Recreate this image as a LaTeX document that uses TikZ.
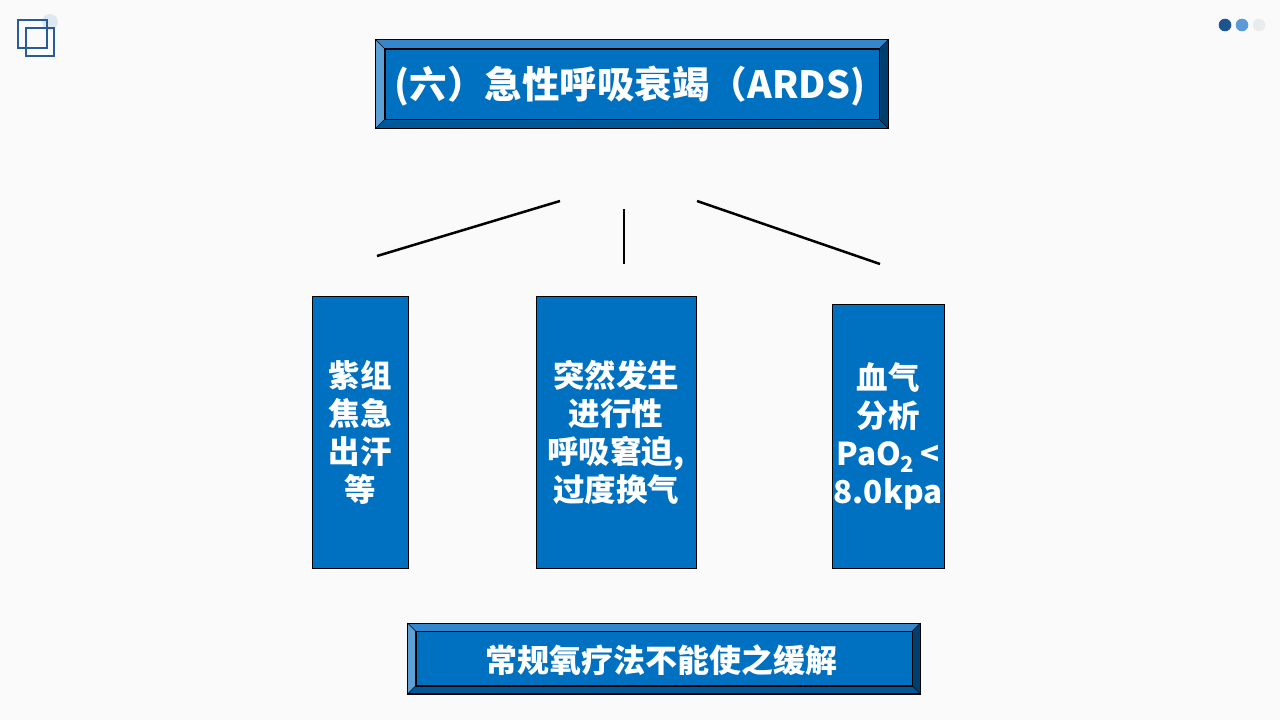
\documentclass[tikz,border=0pt]{standalone}
\usepackage{fontspec}
\setmainfont{Noto Sans CJK SC}
\definecolor{bg}{RGB}{250,250,250}
\definecolor{face}{RGB}{0,112,192}
\definecolor{bvtop}{RGB}{52,135,205}
\definecolor{bvleft}{RGB}{92,160,214}
\definecolor{bvbot}{RGB}{0,88,152}
\definecolor{bvright}{RGB}{0,62,110}
\definecolor{icon}{RGB}{40,92,150}
\definecolor{dotA}{RGB}{28,84,145}
\definecolor{dotB}{RGB}{90,155,215}
\definecolor{dotC}{RGB}{232,236,238}
\newcommand{\mybevel}[2]{%
  \fill[bvtop] (#1.north west) -- (#1.north east) -- ([shift={(#2,-#2)}]#1.north east) -- ([shift={(-#2,-#2)}]#1.north west) -- cycle;
  \fill[bvleft] (#1.north west) -- ([shift={(-#2,-#2)}]#1.north west) -- ([shift={(-#2,#2)}]#1.south west) -- (#1.south west) -- cycle;
  \fill[bvbot] (#1.south west) -- ([shift={(-#2,#2)}]#1.south west) -- ([shift={(#2,#2)}]#1.south east) -- (#1.south east) -- cycle;
  \fill[bvright] (#1.south east) -- ([shift={(#2,#2)}]#1.south east) -- ([shift={(#2,-#2)}]#1.north east) -- (#1.north east) -- cycle;
  \draw[black,line width=0.6pt] (#1.north west) -- ([shift={(-#2,-#2)}]#1.north west)
    (#1.north east) -- ([shift={(#2,-#2)}]#1.north east)
    (#1.south west) -- ([shift={(-#2,#2)}]#1.south west)
    (#1.south east) -- ([shift={(#2,#2)}]#1.south east);
  \draw[black,line width=1.2pt] ([shift={(-#2,-#2)}]#1.north west) rectangle ([shift={(#2,#2)}]#1.south east);
  \draw[black,line width=0.8pt] (#1.north west) rectangle (#1.south east);
}
\begin{document}
\begin{tikzpicture}[x=1pt,y=-1pt,
  facebox/.style={fill=face, draw=black, line width=0.8pt, inner sep=0pt, text=white},
  colbox/.style={fill=face, draw=black, line width=1pt, inner sep=0pt, text=white,
    align=center, font=\bfseries\fontsize{31.5}{38}\selectfont},
  link/.style={black, line width=2.5pt}]
\useasboundingbox[fill=bg] (0,0) rectangle (1280,720);

% top-left icon
\fill[dotB, opacity=0.18] (50,22) circle (8);
\draw[icon, line width=1.6pt] (18,20) rectangle (47,48);
\draw[icon, line width=1.6pt] (26,28) rectangle (54,56);

% top-right dots
\fill[dotA] (1225,25) circle (6.3);
\fill[dotB] (1242,25) circle (6.3);
\fill[dotC] (1259,25) circle (6.3);

% title
\node[facebox, minimum width=494, minimum height=70] (ttl) at (632,84) {};
\mybevel{ttl}{9}
\node[text=white, font=\bfseries\fontsize{37.5}{40}\selectfont] (ttltext) at (630,86) {(六）急性呼吸衰竭（ARDS)};

% connectors
\coordinate (la) at (377,256); \coordinate (lb) at (560,201);
\coordinate (ma) at (624,209); \coordinate (mb) at (624,264);
\coordinate (ra) at (697,201); \coordinate (rb) at (880,264);
\draw[link] (la) -- (lb);
\draw[link] (ma) -- (mb);
\draw[link] (ra) -- (rb);

% columns
\node[colbox, minimum width=96, minimum height=272] (c1) at (360,432) {紫组\\焦急\\出汗\\等};
\node[colbox, minimum width=160, minimum height=272] (c2) at (616,432) {突然发生\\进行性\\呼吸窘迫,\\过度换气};
\node[colbox, minimum width=112, minimum height=264] (c3) at (888,436) {血气\\分析\\PaO\textsubscript{2}\,<\\8.0kpa};

% bottom
\node[facebox, minimum width=496, minimum height=54] (btm) at (664,658.5) {};
\mybevel{btm}{8}
\node[text=white, font=\bfseries\fontsize{32}{36}\selectfont] (btmtext) at (661,660) {常规氧疗法不能使之缓解};
\end{tikzpicture}
\end{document}
